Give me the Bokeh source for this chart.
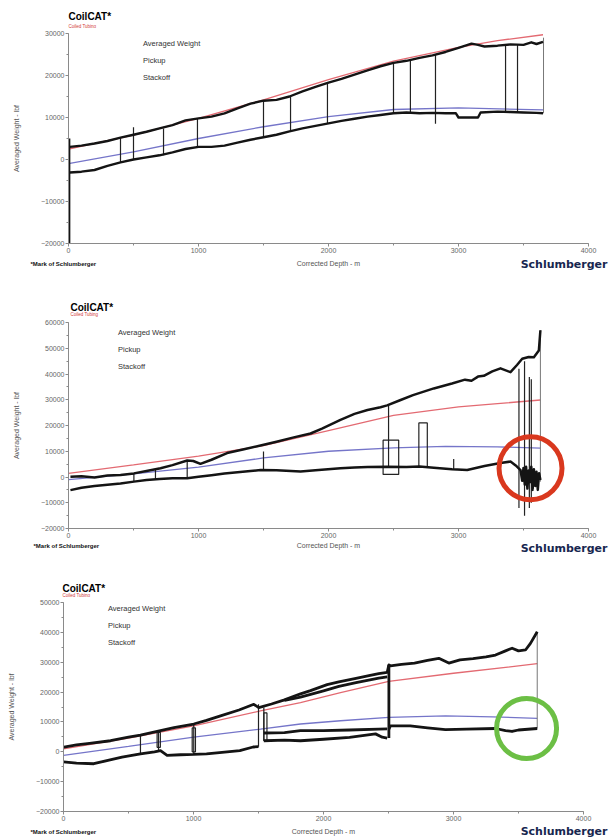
from bokeh.plotting import figure
from bokeh.layouts import column, row
from bokeh.models import Range1d, Label, Legend, LegendItem, SingleIntervalTicker
from bokeh.embed import file_html
from bokeh.resources import INLINE

# ---------------- DATA ----------------
# Panel 1
P1_PICKUP_DEPTH = [0, 500, 1000, 1500, 2000, 2500, 3000, 3300, 3650]
P1_PICKUP = [2500, 5800, 9800, 14200, 19000, 23400, 26700, 28300, 29700]
P1_STACKOFF_DEPTH = [0, 500, 1000, 1500, 2000, 2500, 3000, 3650]
P1_STACKOFF = [-1000, 1800, 5000, 7800, 10200, 11900, 12300, 11800]
P1_POOH_DEPTH = [10, 100, 200, 300, 400, 500, 600, 700, 800, 900,
                 1000, 1100, 1200, 1300, 1400, 1500, 1600, 1700, 1800, 1900,
                 2000, 2100, 2200, 2300, 2400, 2500, 2600, 2700, 2800, 2900,
                 3000, 3100, 3150, 3200, 3300, 3400, 3500, 3560, 3600, 3650]
P1_POOH = [3000, 3300, 3800, 4400, 5200, 5900, 6600, 7400, 8200, 9300,
           9800, 10200, 11000, 12200, 13300, 14000, 14200, 15000, 16200, 17300,
           18300, 19200, 20200, 21200, 22200, 23000, 23500, 24200, 24800, 25600,
           26600, 27600, 27300, 26900, 27100, 27400, 27300, 27900, 27500, 28000]
P1_RIH_DEPTH = [10, 100, 200, 300, 400, 500, 600, 700, 800, 900,
                1000, 1100, 1200, 1300, 1400, 1500, 1600, 1700, 1800, 1900,
                2000, 2100, 2200, 2300, 2400, 2500, 2600, 2700, 2800, 2900,
                2980, 3000, 3150, 3170, 3300, 3400, 3500, 3600, 3650]
P1_RIH = [-3100, -2900, -2500, -1500, -700, 0, 500, 1000, 1700, 2500,
          3000, 3000, 3300, 4000, 4700, 5300, 5900, 6700, 7400, 8000,
          8600, 9200, 9700, 10200, 10600, 11000, 11200, 11000, 11100, 11000,
          11000, 10000, 10000, 11200, 11400, 11300, 11200, 11100, 11000]
P1_SPIKE_DEPTH = [5, 5]
P1_SPIKE = [5000, -20000]
P1_CONN_DEPTH = [400, 500, 731, 992, 1500, 1708, 1992, 2500, 2630, 2823, 3362, 3454]
P1_CONN_LOW = [-700, 0, 1000, 3000, 5300, 6600, 8500, 11000, 11200, 8500, 11400, 11300]
P1_CONN_HIGH = [5200, 7700, 7400, 9800, 14000, 15000, 18200, 23000, 23500, 24900, 27100, 27400]
P1_END_DEPTH = [3654]
P1_END_LOW = [11000]
P1_END_HIGH = [29000]

# Panel 2
P2_PICKUP_DEPTH = [0, 500, 1000, 1500, 2000, 2500, 3000, 3300, 3630]
P2_PICKUP = [1400, 4700, 8100, 12200, 18000, 23900, 27200, 28500, 29900]
P2_STACKOFF_DEPTH = [0, 500, 1000, 1500, 2000, 2500, 2900, 3300, 3630]
P2_STACKOFF = [-1000, 1200, 3800, 7400, 10000, 11300, 11900, 11700, 11200]
P2_POOH_DEPTH = [15, 100, 200, 300, 400, 503, 600, 708, 800, 913,
                 960, 1015, 1100, 1220, 1350, 1477, 1600, 1733, 1862, 1950,
                 2092, 2200, 2300, 2400, 2451, 2550, 2650, 2810, 2950, 3050,
                 3100, 3150, 3195, 3260, 3323, 3400, 3450, 3490, 3540, 3580,
                 3618, 3630]
P2_POOH = [100, 300, -200, 600, 800, 1400, 2300, 3400, 4600, 6400,
           6200, 5100, 6700, 9300, 10800, 12200, 13700, 15400, 16900, 18800,
           22200, 24500, 26000, 27100, 27800, 29800, 31800, 34400, 36300, 37800,
           37400, 39000, 39300, 41000, 42200, 40700, 43500, 45900, 46600, 46500,
           49100, 57000]
P2_RIH_DEPTH = [15, 100, 200, 300, 400, 503, 600, 700, 800, 913,
                1000, 1100, 1200, 1300, 1400, 1477, 1600, 1785, 1900, 2092,
                2200, 2300, 2451, 2600, 2700, 2810, 2950, 3067, 3200, 3323,
                3400, 3440, 3477, 3490, 3500, 3510, 3520, 3530, 3540, 3550,
                3560, 3570, 3580, 3590, 3600, 3610, 3620, 3630]
P2_RIH = [-5100, -4200, -3500, -3000, -2500, -1800, -1200, -800, -500, -500,
          100, 700, 1400, 1800, 2300, 2700, 2600, 2100, 2600, 3400,
          3700, 3900, 4000, 3900, 4100, 3600, 3000, 2700, 4300, 5400,
          6000, 4500, 2700, -1500, 3500, -3000, 4000, -4500, 2500, -2000,
          4000, -5000, 3000, -3500, 2000, -5000, 1500, -1200]
P2_CONN_DEPTH = [503, 669, 913, 1500, 2462, 2963, 3465, 3508, 3545, 3560]
P2_CONN_LOW = [-1800, -1000, -500, 2700, 4000, 3000, -12000, -15000, -12000, -10000]
P2_CONN_HIGH = [1400, 3000, 6400, 9900, 27900, 7000, 42000, 45000, 38800, 38000]
P2_BOX_LEFT = [2420, 2695]
P2_BOX_RIGHT = [2540, 2760]
P2_BOX_BOTTOM = [1000, 4000]
P2_BOX_TOP = [14300, 21000]
P2_END_DEPTH = [3630]
P2_END_LOW = [-1800]
P2_END_HIGH = [57000]
P2_CIRCLE_DEPTH = [3554]
P2_CIRCLE_WEIGHT = [3400]

# Panel 3
P3_PICKUP_DEPTH = [0, 500, 1000, 1515, 1823, 2131, 2502, 3000, 3644]
P3_PICKUP = [1000, 4600, 8700, 13700, 16500, 19800, 23600, 26300, 29500]
P3_STACKOFF_DEPTH = [0, 500, 1002, 1515, 1823, 2131, 2502, 2938, 3300, 3644]
P3_STACKOFF = [-1200, 1800, 4900, 7600, 9300, 10400, 11500, 12000, 11700, 11200]
P3_POOH_DEPTH = [3, 100, 200, 362, 500, 592, 746, 850, 1002, 1100,
                 1208, 1350, 1464, 1502, 1600, 1700, 1772, 1823, 1900, 2028,
                 2118, 2250, 2350, 2425, 2490, 2503, 2515, 2600, 2700, 2800,
                 2887, 2964, 3050, 3150, 3250, 3323, 3400, 3451, 3500, 3554,
                 3592, 3644]
P3_POOH = [1600, 2300, 2800, 3700, 4900, 5600, 7100, 8100, 9300, 10500,
           12000, 14000, 15900, 14800, 16000, 17400, 18600, 19400, 20500, 22500,
           23400, 24600, 25500, 26200, 26600, 29100, 28800, 29300, 29700, 30600,
           31300, 29700, 30800, 31200, 31800, 32400, 33800, 34700, 33800, 34100,
           36300, 40200]
P3_POOH2_DEPTH = [1700, 1823, 2000, 2118, 2250, 2425, 2490]
P3_POOH2 = [17200, 18300, 20400, 21900, 23200, 24700, 25100]
P3_RIH_DEPTH = [0, 100, 233, 350, 450, 592, 700, 746, 797, 900, 1000, 1100, 1200, 1356, 1459, 1500]
P3_RIH = [-3400, -3800, -4000, -2800, -1800, -700, 0, 400, -1200, -1000, -900, -700, -300, 400, 1600, 1700]
P3_RIH2_DEPTH = [1541, 1700, 1823, 2000, 2200, 2400, 2452, 2490]
P3_RIH2 = [3700, 3900, 3700, 4200, 4800, 6000, 4900, 4600]
P3_RIH3_DEPTH = [1541, 1700, 1823, 2000, 2200, 2425, 2490]
P3_RIH3 = [6300, 6400, 7100, 7100, 7300, 7600, 7700]
P3_RIH4_DEPTH = [2503, 2515, 2667, 2800, 2938, 3100, 3323, 3400, 3450, 3500, 3644]
P3_RIH4 = [7600, 8700, 8700, 8000, 7400, 7600, 7800, 7100, 6800, 7300, 7800]
P3_JUMP_DEPTH = [2503, 2503]
P3_JUMP = [29100, 4600]
P3_CONN_DEPTH = [592, 731, 1002, 1500, 1541]
P3_CONN_LOW = [-700, 0, -700, 1700, 3700]
P3_CONN_HIGH = [5600, 7000, 9000, 15900, 14800]
P3_BOX_LEFT = [720, 990, 1541]
P3_BOX_RIGHT = [745, 1015, 1565]
P3_BOX_BOTTOM = [1500, 0, 3700]
P3_BOX_TOP = [6500, 8000, 13000]
P3_END_DEPTH = [3644]
P3_END_LOW = [7800]
P3_END_HIGH = [40200]
P3_CIRCLE_DEPTH = [3562]
P3_CIRCLE_WEIGHT = [7800]

LEGEND_LABELS = ["Averaged Weight", "Pickup", "Stackoff"]

# ---------------- STYLE ----------------
FONT = "Liberation Sans"
W = 612
BLACK = "#141414"
RED = "#e36a72"
BLUE = "#7575c9"
AXIS = "#8a8a8a"


def make_panel(h, y0, y1, left, top, bottom, legend_xy, tw,
               pick, stack, traces, conn, boxes, end, circle=None):
    right = W - left - 520
    p = figure(width=W, height=h, x_range=Range1d(0, 4000), y_range=Range1d(y0, y1),
               output_backend="svg", toolbar_location=None, title=None,
               min_border_left=left, min_border_right=right,
               min_border_top=top, min_border_bottom=bottom)
    p.outline_line_color = None
    p.grid.visible = False
    p.background_fill_color = "white"
    p.border_fill_color = "white"

    p.xaxis.ticker = SingleIntervalTicker(interval=1000, num_minor_ticks=2)
    p.yaxis.ticker = SingleIntervalTicker(interval=10000, num_minor_ticks=2)
    for ax in (p.xaxis[0], p.yaxis[0]):
        ax.axis_line_color = AXIS
        ax.major_tick_line_color = AXIS
        ax.minor_tick_line_color = AXIS
        ax.major_tick_out = 3
        ax.major_tick_in = 0
        ax.minor_tick_out = 2
        ax.minor_tick_in = 0
        ax.major_label_text_font = FONT
        ax.major_label_text_font_size = "7px"
        ax.major_label_text_color = "#666666"
        ax.major_label_standoff = 1
    p.yaxis.axis_label = "Averaged Weight - lbf"
    p.yaxis.axis_label_text_font = FONT
    p.yaxis.axis_label_text_font_size = "7px"
    p.yaxis.axis_label_text_font_style = "normal"
    p.yaxis.axis_label_text_color = "#555555"
    p.yaxis.axis_label_standoff = 18

    # model curves
    p.line(pick[0], pick[1], line_color=RED, line_width=1.3)
    p.line(stack[0], stack[1], line_color=BLUE, line_width=1.3)

    # averaged weight
    p.segment(x0=conn[0], y0=conn[1], x1=conn[0], y1=conn[2], line_color="#222222", line_width=1.2)
    if boxes is not None:
        p.quad(left=boxes[0], right=boxes[1], bottom=boxes[2], top=boxes[3],
               fill_color=None, line_color="#222222", line_width=1.2)
    p.segment(x0=end[0], y0=end[1], x1=end[0], y1=end[2], line_color="#777777", line_width=1)
    p.multi_line(xs=[t[0] for t in traces], ys=[t[1] for t in traces],
                 line_color=BLACK, line_width=tw, line_join="round")

    if circle is not None:
        p.scatter(x=circle[0], y=circle[1], marker="circle", size=circle[2],
                  fill_color=None, line_color=circle[3], line_width=5)

    # legend (thin sample lines)
    r_a = p.line([], [], line_color="#6f7a74", line_width=1.5)
    r_p = p.line([], [], line_color=RED, line_width=1.5)
    r_s = p.line([], [], line_color=BLUE, line_width=1.5)
    leg = Legend(items=[LegendItem(label=LEGEND_LABELS[0], renderers=[r_a]),
                        LegendItem(label=LEGEND_LABELS[1], renderers=[r_p]),
                        LegendItem(label=LEGEND_LABELS[2], renderers=[r_s])],
                 location=legend_xy)
    leg.border_line_color = None
    leg.background_fill_alpha = 0
    leg.padding = 0
    leg.margin = 0
    leg.spacing = 0
    leg.glyph_width = 17
    leg.glyph_height = 17
    leg.label_height = 17
    leg.label_standoff = 9
    leg.label_text_font = FONT
    leg.label_text_font_size = "7.5px"
    leg.label_text_color = "#333333"
    p.add_layout(leg)
    return p


def strip(h):
    s = figure(width=W, height=h, x_range=Range1d(0, W), y_range=Range1d(0, h),
               output_backend="svg", toolbar_location=None, title=None,
               x_axis_location=None, y_axis_location=None,
               min_border=0, min_border_left=0, min_border_right=0,
               min_border_top=0, min_border_bottom=0)
    s.outline_line_color = None
    s.grid.visible = False
    s.xgrid.visible = False
    s.ygrid.visible = False
    s.background_fill_color = "white"
    s.border_fill_color = "white"
    return s


def header(h, x, y_title, y_sub):
    s = strip(h)
    s.add_layout(Label(x=x, y=y_title, text="CoilCAT*", text_font=FONT,
                       text_font_size="10px", text_font_style="bold", text_color="#000000",
                       text_baseline="middle", text_align="left"))
    s.add_layout(Label(x=x, y=y_sub, text="Coiled Tubing", text_font=FONT,
                       text_font_size="4.5px", text_color="#d23a3a",
                       text_baseline="middle", text_align="left"))
    return s


def footer(h, x_mark, y_mark, x_lab, y_lab, y_logo):
    s = strip(h)
    s.add_layout(Label(x=x_mark, y=y_mark, text="*Mark of Schlumberger", text_font=FONT,
                       text_font_size="6px", text_font_style="bold", text_color="#111111",
                       text_baseline="middle", text_align="left"))
    s.add_layout(Label(x=x_lab, y=y_lab, text="Corrected Depth - m", text_font=FONT,
                       text_font_size="7px", text_color="#555555",
                       text_baseline="middle", text_align="center"))
    s.add_layout(Label(x=607, y=y_logo, text="Schlumberger", text_font="DejaVu Sans",
                       text_font_size="11px", text_font_style="bold", text_color="#17264f",
                       text_baseline="middle", text_align="right"))
    return s


t1 = header(28, 68, 12, 2.5)
p1 = make_panel(228, -20000, 30000, 68, 5, 13, (49, 157), 2.4,
                (P1_PICKUP_DEPTH, P1_PICKUP), (P1_STACKOFF_DEPTH, P1_STACKOFF),
                [(P1_POOH_DEPTH, P1_POOH), (P1_RIH_DEPTH, P1_RIH), (P1_SPIKE_DEPTH, P1_SPIKE)],
                (P1_CONN_DEPTH, P1_CONN_LOW, P1_CONN_HIGH), None,
                (P1_END_DEPTH, P1_END_LOW, P1_END_HIGH))
b1 = footer(16, 30, 9, 328, 9, 8)

t2 = header(45, 70, 10, 3)
p2 = make_panel(223, -20000, 60000, 68, 5, 12, (24, 153), 2.5,
                (P2_PICKUP_DEPTH, P2_PICKUP), (P2_STACKOFF_DEPTH, P2_STACKOFF),
                [(P2_POOH_DEPTH, P2_POOH), (P2_RIH_DEPTH, P2_RIH)],
                (P2_CONN_DEPTH, P2_CONN_LOW, P2_CONN_HIGH),
                (P2_BOX_LEFT, P2_BOX_RIGHT, P2_BOX_BOTTOM, P2_BOX_TOP),
                (P2_END_DEPTH, P2_END_LOW, P2_END_HIGH),
                circle=(P2_CIRCLE_DEPTH, P2_CIRCLE_WEIGHT, 63, "#d9381e"))
b2 = footer(16, 33, 11, 328, 11, 8)

t3 = header(41, 62, 9, 2.5)
p3 = make_panel(228, -20000, 50000, 63, 5, 14, (19, 160), 2.8,
                (P3_PICKUP_DEPTH, P3_PICKUP), (P3_STACKOFF_DEPTH, P3_STACKOFF),
                [(P3_POOH_DEPTH, P3_POOH), (P3_POOH2_DEPTH, P3_POOH2),
                 (P3_RIH_DEPTH, P3_RIH), (P3_RIH2_DEPTH, P3_RIH2),
                 (P3_RIH3_DEPTH, P3_RIH3), (P3_RIH4_DEPTH, P3_RIH4),
                 (P3_JUMP_DEPTH, P3_JUMP)],
                (P3_CONN_DEPTH, P3_CONN_LOW, P3_CONN_HIGH),
                (P3_BOX_LEFT, P3_BOX_RIGHT, P3_BOX_BOTTOM, P3_BOX_TOP),
                (P3_END_DEPTH, P3_END_LOW, P3_END_HIGH),
                circle=(P3_CIRCLE_DEPTH, P3_CIRCLE_WEIGHT, 60, "#6cbf45"))
b3 = footer(12, 30, 6, 323, 6, 6)

# each plot in its own row so that the column does not align their frames
layout = column(*[row(c) for c in (t1, p1, b1, t2, p2, b2, t3, p3, b3)], spacing=0)
open("out.html", "w").write(file_html(layout, INLINE, "CoilCAT"))
